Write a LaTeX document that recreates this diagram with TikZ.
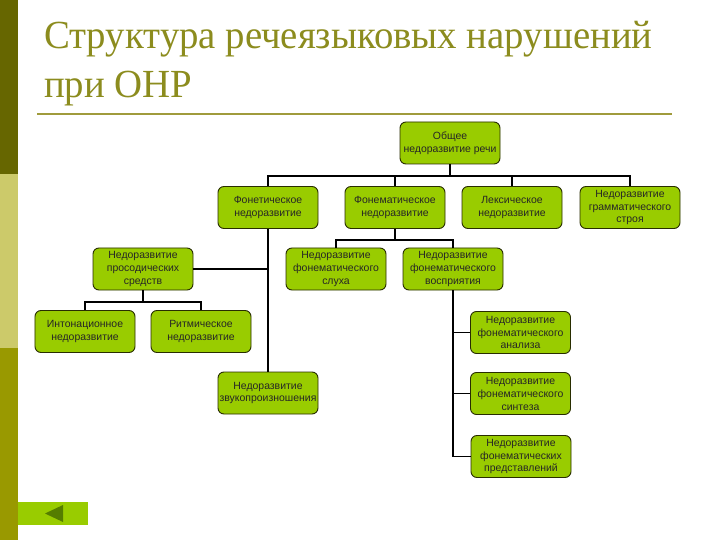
\documentclass[tikz,border=0pt]{standalone}
\usepackage{fontspec}
\setmainfont{Liberation Sans}
\newfontfamily\titlefont{Liberation Serif}
\definecolor{boxgreen}{RGB}{153,204,0}
\definecolor{boxedge}{RGB}{40,45,0}
\definecolor{titlecol}{RGB}{140,140,30}
\definecolor{rulecol}{RGB}{160,155,60}
\definecolor{barA}{RGB}{102,102,0}
\definecolor{barB}{RGB}{204,202,106}
\definecolor{barC}{RGB}{153,153,0}
\definecolor{tridark}{RGB}{85,125,0}
\tikzset{
  gbox/.style={draw=boxedge, line width=0.9bp, fill=boxgreen, rounded corners=6bp,
    minimum width=100bp, minimum height=42bp, inner sep=1bp, align=center,
    text=black!85, font=\fontsize{10.5}{13}\selectfont},
  conn/.style={draw=black, line width=1.8bp},
  ttl/.style={anchor=base west, inner sep=0pt, text=titlecol, xscale=0.973,
    font=\titlefont\fontsize{40}{48}\selectfont}
}
\begin{document}
\begin{tikzpicture}[x=1bp,y=-1bp]
\useasboundingbox (0,0) rectangle (720,540);
\fill[white] (0,0) rectangle (720,540);
% left bar
\fill[barA] (0,0) rectangle (18,174);
\fill[barB] (0,174) rectangle (18,348);
\fill[barC] (0,348) rectangle (18,540);
% title
\node[ttl] (t1) at (44,49) {Структура речеязыковых нарушений};
\node[ttl] (t2) at (44,98) {при ОНР};
\draw[rulecol, line width=2.2bp] (37,114) -- (672,114);
% boxes
\node[gbox] (root) at (450,143) {Общее\\недоразвитие речи};
\node[gbox] (fon) at (268,207.5) {Фонетическое\\недоразвитие};
\node[gbox] (fonem) at (395,207.5) {Фонематическое\\недоразвитие};
\node[gbox] (leks) at (512,207.5) {Лексическое\\недоразвитие};
\node[gbox] (gram) at (630,207.5) {Недоразвитие\\грамматического\\строя};
\node[gbox] (pros) at (143,269) {Недоразвитие\\просодических\\средств};
\node[gbox] (slukh) at (336,269) {Недоразвитие\\фонематического\\слуха};
\node[gbox] (vospr) at (453,269) {Недоразвитие\\фонематического\\восприятия};
\node[gbox] (inton) at (85,331.5) {Интонационное\\недоразвитие};
\node[gbox] (ritm) at (201,331.5) {Ритмическое\\недоразвитие};
\node[gbox] (analiz) at (520.5,332.5) {Недоразвитие\\фонематического\\анализа};
\node[gbox] (zvuk) at (268,393) {Недоразвитие\\звукопроизношения};
\node[gbox] (sintez) at (520.5,393.5) {Недоразвитие\\фонематического\\синтеза};
\node[gbox] (predst) at (521,456.5) {Недоразвитие\\фонематических\\представлений};
% connectors
\coordinate (bus) at (450,176);
\draw[conn] (root.south) -- (bus);
\draw[conn] (bus) -| (fon.north);
\draw[conn] (bus) -| (fonem.north);
\draw[conn] (bus) -| (leks.north);
\draw[conn] (bus) -| (gram.north);
\draw[conn] (fon.south) -- (zvuk.north);
\draw[conn] (pros.east) -- (pros.east -| fon.south);
\coordinate (pbus) at (143,302);
\draw[conn] (pros.south) -- (pbus);
\draw[conn] (pbus) -| (inton.north);
\draw[conn] (pbus) -| (ritm.north);
\coordinate (fbus) at (395,240);
\draw[conn] (fonem.south) -- (fbus);
\draw[conn] (fbus) -| (slukh.north);
\draw[conn] (fbus) -| (vospr.north);
\draw[conn] (vospr.south) |- (predst.west);
\draw[conn] (analiz.west) -- (analiz.west -| vospr.south);
\draw[conn] (sintez.west) -- (sintez.west -| vospr.south);
% back button
\fill[boxgreen] (18,502) rectangle (88,525);
\fill[tridark] (45,513.5) -- (63,505) -- (63,522) -- cycle;
\end{tikzpicture}
\end{document}
